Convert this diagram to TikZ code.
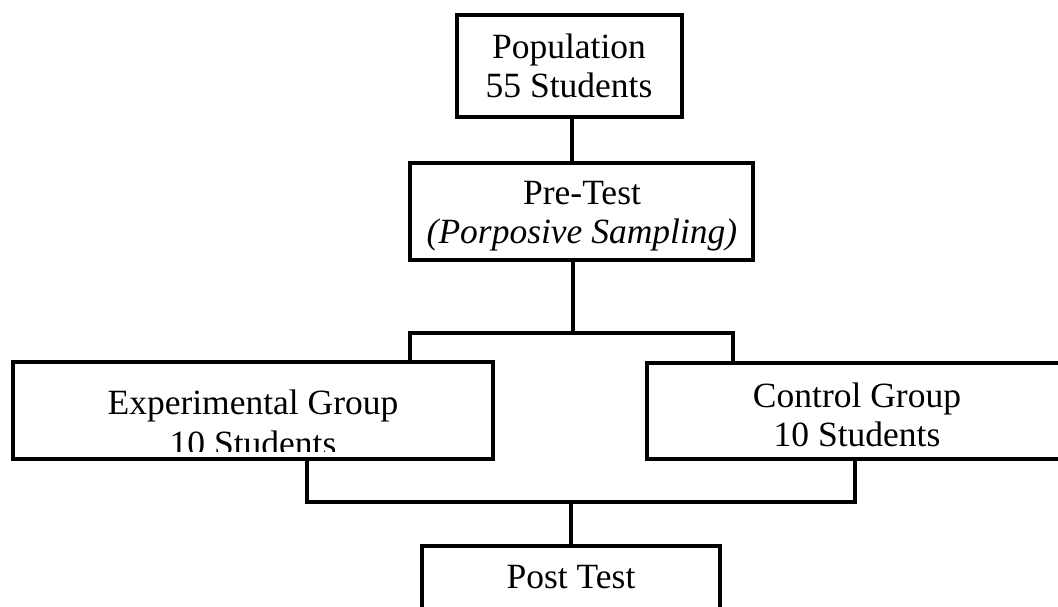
\documentclass[tikz,border=0pt]{standalone}
\usepackage{fontspec}
\setmainfont{Liberation Serif}
\tikzset{
  box/.style={draw, line width=4.5pt, rectangle, inner sep=0pt, outer sep=0pt},
  lbl/.style={anchor=base, inner sep=0pt, outer sep=0pt, font=\fontsize{35.5}{40}\selectfont},
  conn/.style={line width=4.5pt},
}
\begin{document}
\begin{tikzpicture}[x=1pt,y=-1pt]
\useasboundingbox (0,0) rectangle (1058,606);
\clip (0,0) rectangle (1058,606);
% boxes
\node[box, minimum width=225pt, minimum height=102pt] (pop) at (569.5,66) {};
\node[box, minimum width=343pt, minimum height=97pt] (pre) at (581.5,211.5) {};
\node[box, minimum width=480pt, minimum height=97pt] (exp) at (253,410.5) {};
\node[box, minimum width=420pt, minimum height=96pt] (ctrl) at (857,411) {};
\node[box, minimum width=298pt, minimum height=114pt] (post) at (571,603) {};
% labels
\node[lbl] (popa) at (569,58) {Population};
\node[lbl] (popb) at (569,97) {55 Students};
\node[lbl] (prea) at (582,204) {Pre-Test};
\node[lbl] (preb) at (582,243) {\textit{(Porposive Sampling)}};
\node[lbl] (expa) at (253,414) {Experimental Group};
\begin{scope}
\clip (0,0) rectangle (1058,451);
\node[lbl] (expb) at (253,455) {10 Students};
\end{scope}
\node[lbl] (ctrla) at (857,407) {Control Group};
\node[lbl] (ctrlb) at (857,446) {10 Students};
\node[lbl] (posta) at (571,588) {Post Test};
% connector coordinates
\coordinate (c1) at (572,0);
\coordinate (jt) at (573,333);
\coordinate (ltop) at (410,333);
\coordinate (rtop) at (733,333);
\coordinate (lbot) at (307,502);
\coordinate (rbot) at (855,502);
\coordinate (mbot) at (571,502);
% connectors
\draw[conn] (pop.south -| c1) -- (pre.north -| c1);
\draw[conn] (pre.south -| jt) -- (jt);
\draw[conn] (exp.north -| ltop) -- (ltop) -- (rtop) -- (ctrl.north -| rtop);
\draw[conn] (exp.south -| lbot) -- (lbot) -- (rbot) -- (ctrl.south -| rbot);
\draw[conn] (mbot) -- (post.north);
\end{tikzpicture}
\end{document}
